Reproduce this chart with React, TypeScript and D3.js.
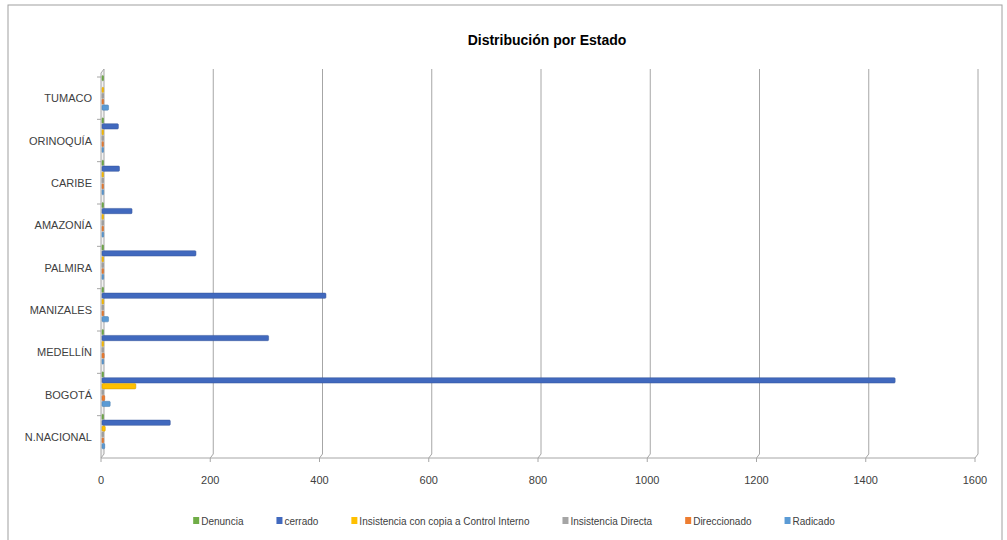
import React, { useEffect, useRef, useState } from "react";
import * as d3 from "d3";

const categories = ["N.NACIONAL", "BOGOTÁ", "MEDELLÍN", "MANIZALES", "PALMIRA", "AMAZONÍA", "CARIBE", "ORINOQUÍA", "TUMACO"];
const seriesNames = ["Denuncia", "cerrado", "Insistencia con copia a Control Interno", "Insistencia Directa", "Direccionado", "Radicado"];
const seriesColors = ["#70ad47", "#4169be", "#ffc000", "#a5a5a5", "#ed7d31", "#5b9bd5"];
const denuncia = [2, 2, 2, 2, 2, 2, 2, 2, 2];
const cerrado = [125, 1452, 305, 410, 172, 55, 32, 30, 0];
const insistenciaCopia = [6, 62, 3, 3, 2, 2, 2, 2, 3];
const insistenciaDirecta = [1, 2, 1, 1, 1, 1, 1, 1, 1];
const direccionado = [3, 5, 4, 3, 3, 2, 2, 2, 3];
const radicado = [5, 15, 3, 12, 3, 3, 3, 2, 12];
const xTicks = [0, 200, 400, 600, 800, 1000, 1200, 1400, 1600];

const seriesValues = [denuncia, cerrado, insistenciaCopia, insistenciaDirecta, direccionado, radicado];

const W = 1007;
const H = 540;
const FONT = "'Liberation Sans', Arial, sans-serif";

export default function App() {
  const x = d3.scaleLinear().domain([0, 1600]).range([101, 975]);
  const catTop = 77;
  const catBottom = 458;
  const yCat = d3.scaleBand<string>().domain([...categories].reverse()).range([catTop - 5, catBottom - 5]).paddingInner(0);
  const ySer = d3.scaleBand<string>().domain(seriesNames).range([0, yCat.bandwidth()]).paddingOuter(0.6).paddingInner(0);
  const depth = 3;

  const legendRef = useRef<SVGGElement>(null);
  const [legendX, setLegendX] = useState<number[] | null>(null);
  useEffect(() => {
    if (!legendRef.current) return;
    const texts = Array.from(legendRef.current.querySelectorAll("text")) as SVGTextElement[];
    const widths = texts.map((t) => 8 + t.getComputedTextLength());
    const gap = 33;
    const total = d3.sum(widths) + gap * (widths.length - 1);
    let lx = 514 - total / 2;
    setLegendX(
      widths.map((w) => {
        const p = lx;
        lx += w + gap;
        return p;
      })
    );
  }, []);

  return (
    <svg width={W} height={H} style={{ position: "absolute", left: 0, top: 0, background: "#fff" }}>
      <rect x={8} y={5} width={994} height={560} fill="#fff" stroke="#a0a0a0" strokeWidth={1} />
      <text x={547} y={45} textAnchor="middle" fontFamily={FONT} fontWeight="bold" fontSize={14} fill="#000">
        Distribución por Estado
      </text>
      {xTicks.map((t) => (
        <g key={t}>
          {t > 0 && (
            <path
              d={`M${x(t) + depth},${catTop - 8} L${x(t) + depth},${catBottom - 4} L${x(t)},${catBottom}`}
              fill="none"
              stroke="#a6a6a6"
              strokeWidth={1}
            />
          )}
          <line x1={x(t)} x2={x(t)} y1={catBottom} y2={catBottom + 4} stroke="#a6a6a6" />
          <text x={x(t)} y={484} textAnchor="middle" fontFamily={FONT} fontSize={11} fill="#404040">
            {t}
          </text>
        </g>
      ))}
      <line x1={x(0)} x2={x(1600)} y1={catBottom} y2={catBottom} stroke="#a6a6a6" />
      <path
        d={`M${x(0)},${catTop - 4} L${x(0) + depth},${catTop - 8} L${x(0) + depth},${catBottom - 4} L${x(0)},${catBottom} Z`}
        fill="#f2f2f2"
        stroke="#a6a6a6"
      />
      {categories.map((c) => (
        <line key={c} x1={x(0) - 4} x2={x(0)} y1={(yCat(c) as number) + 5} y2={(yCat(c) as number) + 5} stroke="#a6a6a6" />
      ))}
      {seriesNames.map((s, si) =>
        categories.map((c, ci) => {
          const v = seriesValues[si][ci];
          if (v <= 0) return null;
          const y0 = (yCat(c) as number) + (ySer(s) as number);
          const h = ySer.bandwidth();
          const w = x(v) - x(0);
          return (
            <rect
              key={s + c}
              x={x(0) + 1}
              y={y0}
              width={Math.max(w, 1.5)}
              height={h - 0.6}
              rx={1}
              fill={seriesColors[si]}
              stroke={d3.color(seriesColors[si])!.darker(0.6).toString()}
              strokeWidth={0.5}
            />
          );
        })
      )}
      {categories.map((c) => (
        <text
          key={c}
          x={92}
          y={(yCat(c) as number) + yCat.bandwidth() / 2 + 9}
          textAnchor="end"
          fontFamily={FONT}
          fontSize={11}
          fill="#404040"
        >
          {c}
        </text>
      ))}
      <g ref={legendRef} style={{ visibility: legendX ? "visible" : "hidden" }}>
        {seriesNames.map((n, i) => (
          <g key={n} transform={`translate(${legendX ? legendX[i] : 0},521)`}>
            <rect x={0} y={-4} width={6} height={7} fill={seriesColors[i]} />
            <text x={8} y={3.5} fontFamily={FONT} fontSize={10} fill="#404040">
              {n}
            </text>
          </g>
        ))}
      </g>
    </svg>
  );
}
